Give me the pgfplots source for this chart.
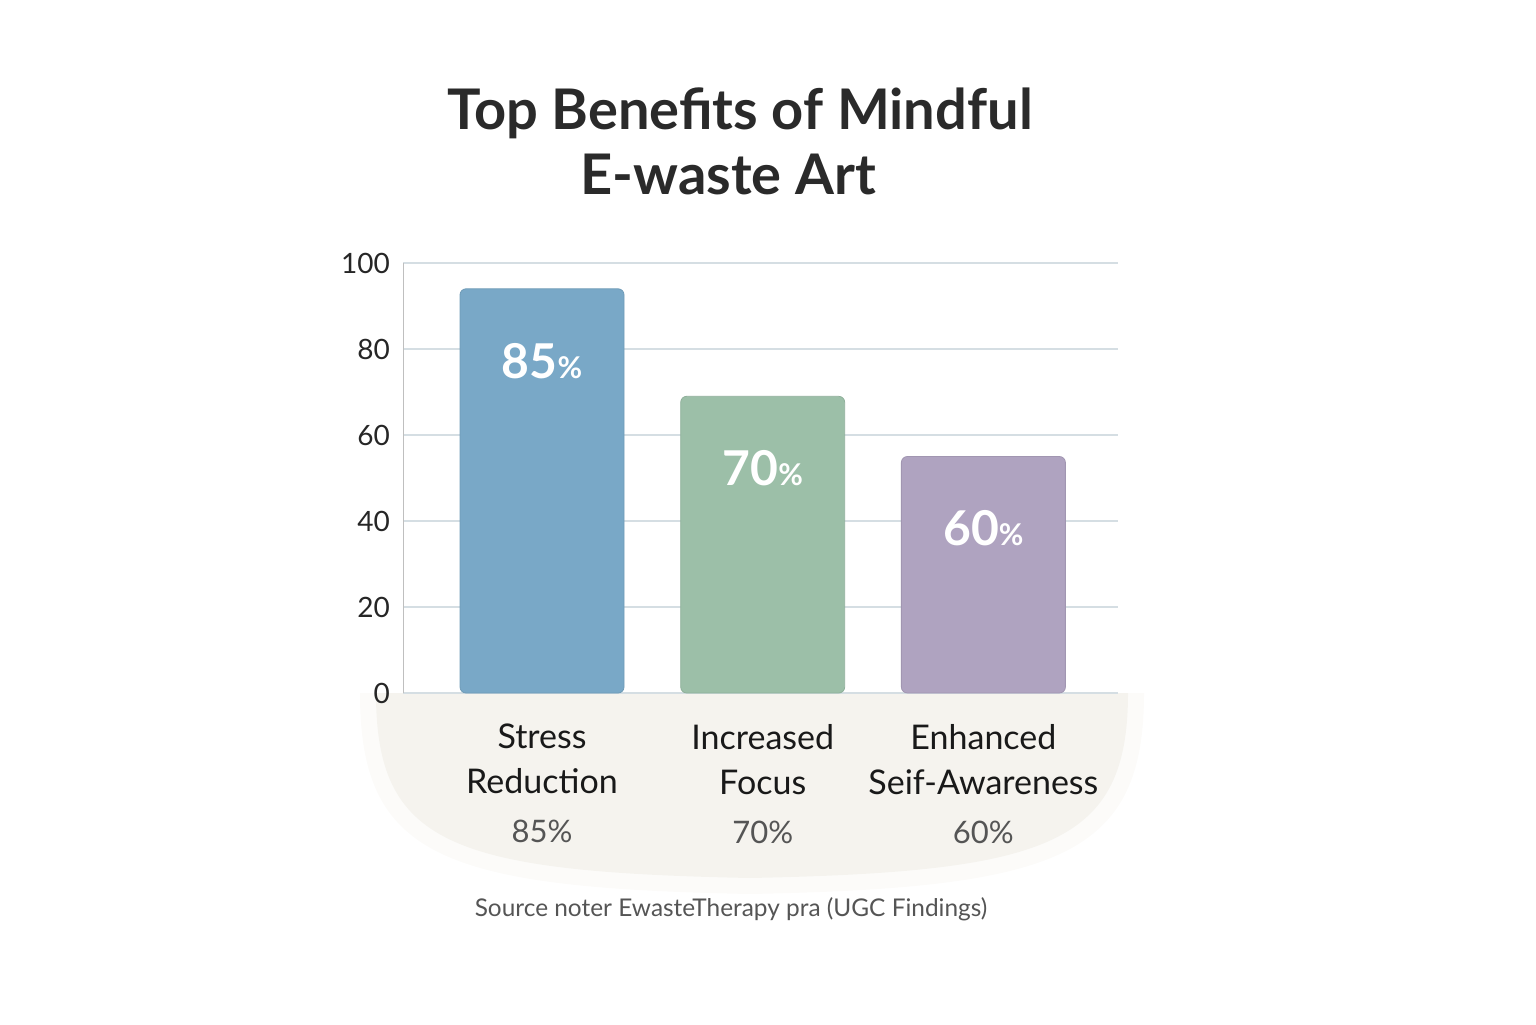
\documentclass[border=0pt]{standalone}
\usepackage{fontspec}
\setmainfont{Lato}
\usepackage{pgfplots}
\pgfplotsset{compat=1.18}
\definecolor{barblue}{HTML}{79A8C7}
\definecolor{bargreen}{HTML}{9CBFA8}
\definecolor{barpurple}{HTML}{AFA3C0}
\definecolor{gridc}{HTML}{D5DEE3}
\definecolor{beige}{HTML}{F5F3EE}
\definecolor{titlec}{HTML}{2A2A2A}
\definecolor{labgray}{HTML}{555555}
\newcommand{\barlabel}[1]{{\fontsize{24}{24}\selectfont\bfseries #1}{\fontsize{15}{15}\selectfont\bfseries\%}}
\begin{document}
\begin{tikzpicture}
\path[use as bounding box] (0pt,0pt) rectangle (768pt,512pt);
\fill[beige, opacity=0.35] (180pt,165.5pt) -- (572pt,165.5pt) .. controls (572pt,84pt) and (530pt,68pt) .. (375pt,65pt) .. controls (220pt,68pt) and (180pt,84pt) .. cycle;
\fill[beige] (188pt,165.5pt) -- (564pt,165.5pt) .. controls (564pt,90pt) and (525pt,76pt) .. (375pt,73pt) .. controls (225pt,76pt) and (188pt,90pt) .. cycle;
\begin{axis}[at={(201.5pt,165.5pt)}, anchor=south west, scale only axis,
  width=357.5pt, height=215pt,
  ymin=0, ymax=100, xmin=-0.63, xmax=2.61,
  ytick={0,20,40,60,80,100},
  xtick={0,1,2},
  xticklabels={{Stress\\Reduction\\[2pt]{\fontsize{15.5}{18}\selectfont\color{labgray}85\%}},{Increased\\Focus\\[2pt]{\fontsize{15.5}{18}\selectfont\color{labgray}70\%}},{Enhanced\\Seif-Awareness\\[2pt]{\fontsize{15.5}{18}\selectfont\color{labgray}60\%}}},
  axis y line*=left, axis x line*=bottom,
  x axis line style={draw=none},
  y axis line style={draw=black!25},
  major tick length=0pt,
  ymajorgrids, grid style={draw=gridc, line width=0.6pt},
  /pgf/number format/assume math mode=true,
  yticklabel style={font=\fontsize{14}{16}\selectfont, text=black!85, xshift=-3pt},
  xticklabel style={align=center, font=\fontsize{17}{22.5}\selectfont, text=black!90, yshift=-12pt},
  ybar, bar width=82pt, bar shift=0pt,
  nodes near coords style={anchor=center, yshift=-36pt, text=white},
]
\addplot[fill=barblue, draw=barblue!92!black, rounded corners=3pt, nodes near coords={\barlabel{85}}] coordinates {(0,94)};
\addplot[fill=bargreen, draw=bargreen!92!black, rounded corners=3pt, nodes near coords={\barlabel{70}}] coordinates {(1,69)};
\addplot[fill=barpurple, draw=barpurple!92!black, rounded corners=3pt, nodes near coords={\barlabel{60}}] coordinates {(2,55)};
\end{axis}
\node[anchor=base, text=titlec, font=\fontsize{28}{28}\selectfont\bfseries] at (370pt,447pt) {Top Benefits of Mindful};
\node[anchor=base, text=titlec, font=\fontsize{28}{28}\selectfont\bfseries] at (364pt,414.5pt) {E-waste Art};
\node[anchor=base, text=labgray, font=\fontsize{12.2}{14}\selectfont] at (365.5pt,54pt) {Source noter EwasteTherapy pra (UGC Findings)};
\end{tikzpicture}
\end{document}
